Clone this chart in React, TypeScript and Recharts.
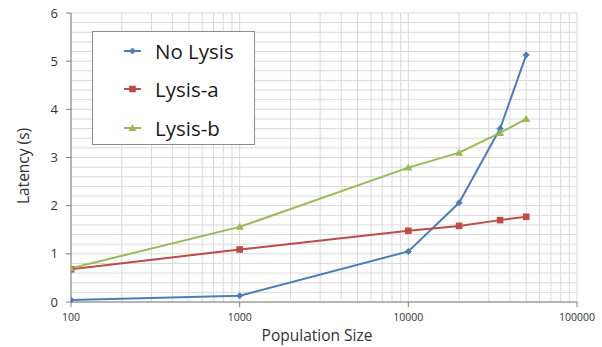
import React from 'react';
import { LineChart, Line, XAxis, YAxis, CartesianGrid, Legend, Label } from 'recharts';

const populationSizes = [100, 1000, 10000, 20000, 35000, 50000];
const noLysis = [0.04, 0.13, 1.05, 2.06, 3.6, 5.13];
const lysisA = [0.68, 1.09, 1.48, 1.58, 1.7, 1.77];
const lysisB = [0.7, 1.56, 2.79, 3.1, 3.51, 3.8];

const xTicks = [100, 1000, 10000, 100000];
const yTicks = [0, 1, 2, 3, 4, 5, 6];
const xGrid = [
  100, 200, 300, 400, 500, 600, 700, 800, 900,
  1000, 2000, 3000, 4000, 5000, 6000, 7000, 8000, 9000,
  10000, 20000, 30000, 40000, 50000, 60000, 70000, 80000, 90000, 100000,
];
const yGrid = [
  0, 0.2, 0.4, 0.6, 0.8, 1, 1.2, 1.4, 1.6, 1.8, 2, 2.2, 2.4, 2.6, 2.8, 3,
  3.2, 3.4, 3.6, 3.8, 4, 4.2, 4.4, 4.6, 4.8, 5, 5.2, 5.4, 5.6, 5.8, 6,
];

const seriesNames = ['No Lysis', 'Lysis-a', 'Lysis-b'];
const seriesKeys = ['noLysis', 'lysisA', 'lysisB'];
const seriesColors = ['#4a7ebb', '#be4b48', '#98b954'];
const seriesMarkers = ['diamond', 'square', 'triangle'];

const data = populationSizes.map((x, i) => ({
  x,
  noLysis: noLysis[i],
  lysisA: lysisA[i],
  lysisB: lysisB[i],
}));

const FONT = '"Open Sans", "DejaVu Sans", sans-serif';

function markerShape(kind: string, cx: number, cy: number, color: string, key?: any) {
  if (kind === 'diamond') {
    const r = 3;
    return (
      <polygon key={key} points={`${cx},${cy - r} ${cx + r},${cy} ${cx},${cy + r} ${cx - r},${cy}`} fill={color} stroke={color} strokeWidth={1} />
    );
  }
  if (kind === 'square') {
    const s = 3.3;
    return <rect key={key} x={cx - s} y={cy - s} width={2 * s} height={2 * s} fill={color} stroke="none" />;
  }
  const r = 4;
  return (
    <polygon key={key} points={`${cx},${cy - r} ${cx + r},${cy + r * 0.75} ${cx - r},${cy + r * 0.75}`} fill={color} stroke="none" />
  );
}

const makeDot = (kind: string, color: string) => (props: any) => {
  const { cx, cy, index } = props;
  if (cx == null || cy == null) return <g key={index} />;
  return markerShape(kind, cx, cy, color, index);
};

const LegendBox = () => {
  return (
    <div
      style={{
        position: 'relative',
        width: 161,
        height: 112,
        border: '1px solid #8c8c8c',
        background: '#ffffff',
        boxSizing: 'content-box',
        fontFamily: FONT,
      }}
    >
      {seriesNames.map((name, idx) => {
        const color = seriesColors[idx];
        return (
          <div
            key={name}
            style={{
              position: 'absolute',
              left: 31,
              top: 1 + idx * 38.3,
              height: 36,
              display: 'flex',
              alignItems: 'center',
            }}
          >
            <svg width={18} height={10} style={{ display: 'block' }}>
              <line x1={0} y1={5} x2={17} y2={5} stroke={color} strokeWidth={2} />
              {markerShape(seriesMarkers[idx], 8.5, 5, color)}
            </svg>
            <span style={{ marginLeft: 13, fontSize: 20.5, color: '#1a1a1a', lineHeight: '36px', whiteSpace: 'nowrap' }}>{name}</span>
          </div>
        );
      })}
    </div>
  );
};

export default function App() {
  return (
    <div style={{ position: 'relative', width: 602, height: 347 }}>
      <style>{'body{margin:0;}'}</style>
      <LineChart
        width={602}
        height={347}
        data={data}
        margin={{ top: 13, right: 25, bottom: 0, left: 0 }}
        style={{ fontFamily: FONT }}
      >
        <CartesianGrid
          stroke="#d9d9d9"
          strokeWidth={1}
          horizontalValues={yGrid}
          verticalValues={xGrid}
        />
        <XAxis
          dataKey="x"
          type="number"
          scale="log"
          domain={[100, 100000]}
          ticks={xTicks}
          allowDataOverflow
          height={45}
          tickSize={5}
          tickMargin={7}
          stroke="#7f7f7f"
          tick={{ fill: '#333333', fontSize: 10.5 }}
          interval={0}
        >
          <Label value="Population Size" position="insideBottom" offset={6.5} dx={-7} style={{ fontSize: 15.5, fill: '#333333' }} />
        </XAxis>
        <YAxis
          type="number"
          domain={[0, 6]}
          ticks={yTicks}
          width={71}
          tickSize={5}
          tickMargin={8}
          stroke="#7f7f7f"
          tick={{ fill: '#333333', fontSize: 13 }}
          interval={0}
        >
          <Label value="Latency (s)" angle={-90} position="center" dx={-12} dy={8.5} style={{ fontSize: 15.5, fill: '#333333', textAnchor: 'middle' }} />
        </YAxis>
        <Legend
          layout="vertical"
          align="center"
          verticalAlign="middle"
          content={<LegendBox />}
          wrapperStyle={{ position: 'absolute', left: 92, top: 31, width: 163, height: 114 }}
        />
        {seriesKeys.map((k, i) => (
          <Line
            key={k}
            dataKey={k}
            name={seriesNames[i]}
            stroke={seriesColors[i]}
            strokeWidth={2}
            dot={makeDot(seriesMarkers[i], seriesColors[i])}
            activeDot={false}
            isAnimationActive={false}
            type="linear"
          />
        ))}
      </LineChart>
    </div>
  );
}
